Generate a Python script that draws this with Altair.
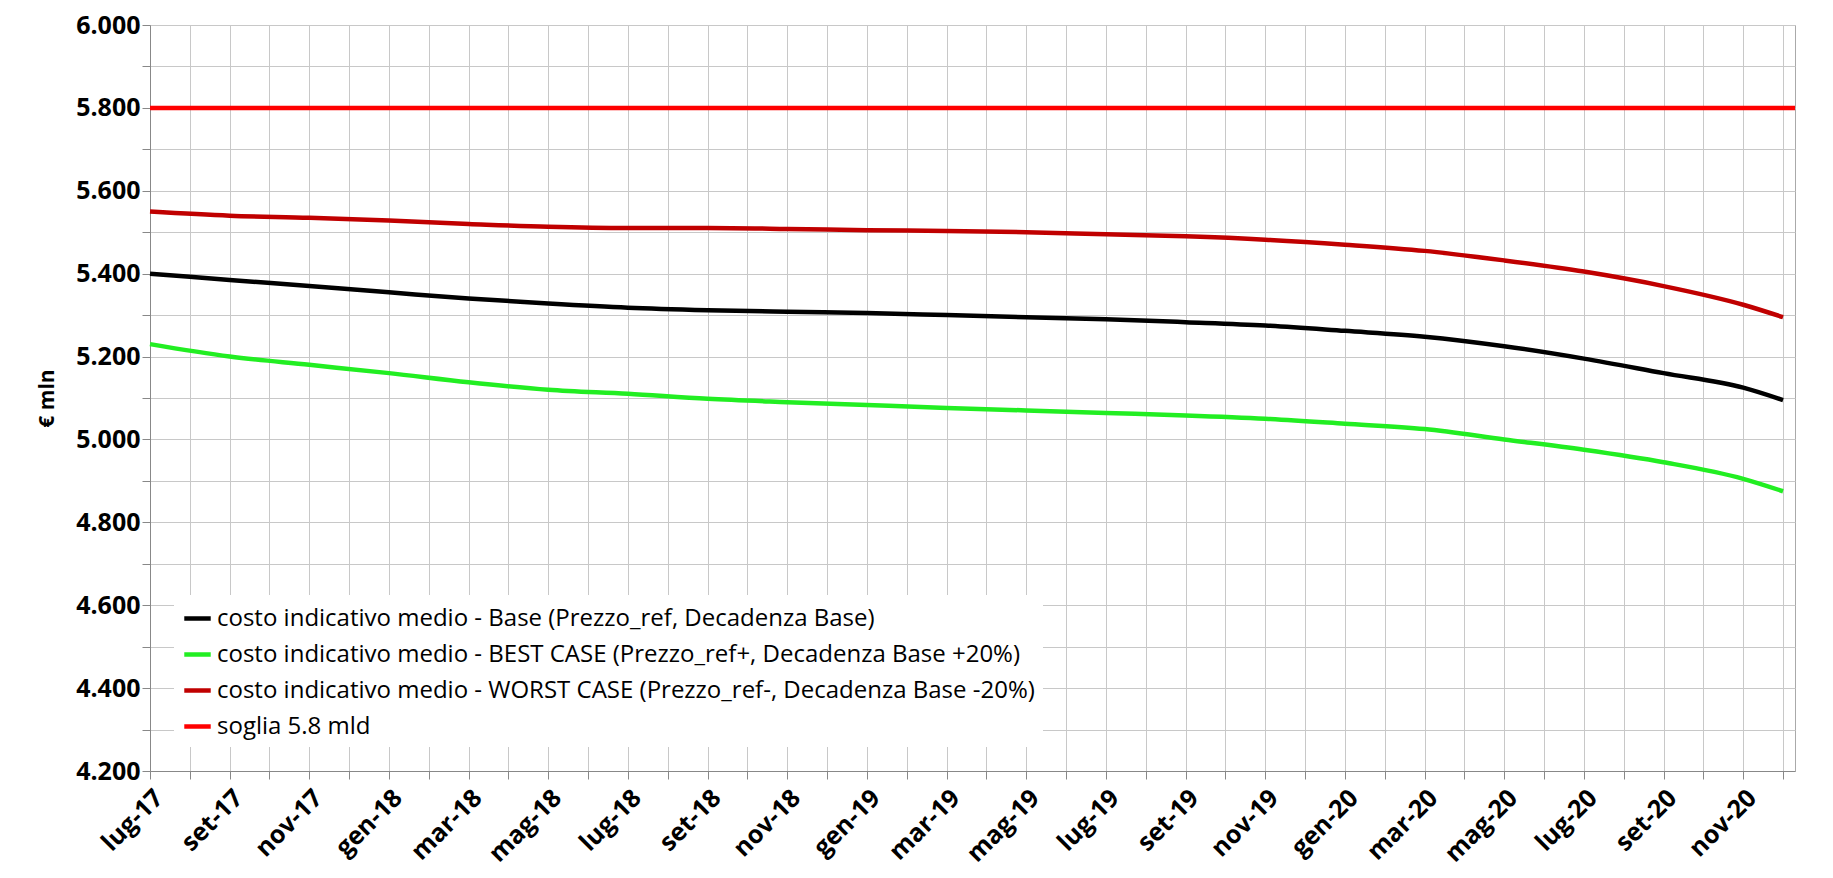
import altair as alt
import pandas as pd

months = ["lug-17","set-17","nov-17","gen-18","mar-18","mag-18","lug-18","set-18","nov-18",
          "gen-19","mar-19","mag-19","lug-19","set-19","nov-19","gen-20","mar-20","mag-20",
          "lug-20","set-20","nov-20","dic-20"]
idx = list(range(0, 41, 2)) + [41]
base = [5400,5385,5370,5355,5340,5328,5318,5312,5308,5305,5300,5295,5290,5283,5275,5262,5248,5225,5195,5160,5125,5095]
best = [5230,5200,5180,5160,5138,5120,5110,5098,5090,5083,5076,5070,5064,5058,5050,5038,5025,5000,4975,4945,4905,4875]
worst = [5550,5540,5535,5528,5520,5513,5510,5510,5508,5505,5503,5500,5495,5490,5482,5470,5455,5432,5405,5370,5325,5295]
soglia_x = [0, 41.3]
soglia = [5800, 5800]

names = ["costo indicativo medio - Base (Prezzo_ref, Decadenza Base)",
         "costo indicativo medio - BEST CASE (Prezzo_ref+, Decadenza Base +20%)",
         "costo indicativo medio - WORST CASE (Prezzo_ref-, Decadenza Base -20%)",
         "soglia 5.8 mld"]
colors = ["#000000", "#22ee22", "#c00000", "#ff0000"]

rows = []
for s, vals in zip(names[:3], [base, best, worst]):
    for x, v in zip(idx, vals):
        rows.append({"x": x, "v": v, "s": s})
for x, v in zip(soglia_x, soglia):
    rows.append({"x": x, "v": v, "s": names[3]})
df = pd.DataFrame(rows)

labels_js = "[" + ",".join(f"'{m}'" for m in months[:-1]) + "]"

chart = alt.Chart(df).mark_line(strokeWidth=4.5, interpolate="monotone").encode(
    x=alt.X("x:Q", scale=alt.Scale(domain=[0, 41.3], nice=False, zero=False),
            axis=alt.Axis(values=list(range(0, 42)), title=None, labelAngle=-45,
                          labelExpr=f"datum.value % 2 == 0 ? {labels_js}[datum.value/2] : ''",
                          labelFontSize=25, labelFontWeight="bold", labelColor="#000",
                          labelOverlap=False, labelFlush=False,
                          gridColor="#c8c8c8", tickColor="#888", domainColor="#888", tickSize=8,
                          labelAlign="right", labelBaseline="top", labelPadding=6)),
    y=alt.Y("v:Q", scale=alt.Scale(domain=[4200, 6000], nice=False, zero=False),
            axis=alt.Axis(values=list(range(4200, 6001, 100)), title="€ mln",
                          labelExpr="datum.value % 200 == 0 ? replace(format(datum.value, ','), ',', '.') : ''",
                          labelFontSize=25, labelFontWeight="bold", labelColor="#000",
                          labelOverlap=False,
                          titleFontSize=21, titleFontWeight="bold", titlePadding=18,
                          gridColor="#c8c8c8", tickColor="#888", domainColor="#888", tickSize=8)),
    color=alt.Color("s:N", scale=alt.Scale(domain=names, range=colors),
                    legend=alt.Legend(title=None, orient="bottom-left", fillColor="white",
                                      labelFontSize=24, symbolType="stroke", symbolStrokeWidth=4.5,
                                      symbolSize=700, labelLimit=1200, padding=8, rowPadding=8,
                                      offset=24, labelColor="#000")),
).properties(width=1645, height=746, padding={"left": 28, "top": 5, "right": 5, "bottom": 5}
).configure(font="Open Sans").configure_view(stroke="#aaa")

chart.save("out.html", embed_options={"renderer": "svg", "actions": False})
